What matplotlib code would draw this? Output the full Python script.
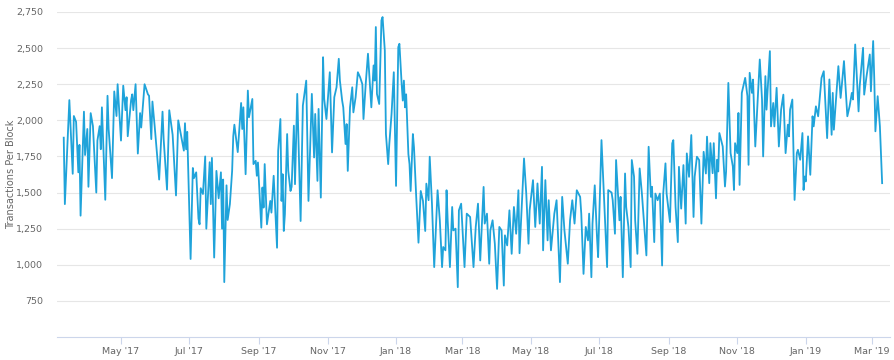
import pandas as pd
import matplotlib
matplotlib.use('Agg')
import matplotlib.pyplot as plt
import matplotlib.dates as mdates

# daily transactions per block (day 0 = 11 Mar 2017)
start = '2017-03-11'
days = [0, 1, 5, 8, 9, 11, 13, 14, 15, 18, 19, 21, 22, 24, 26, 29, 30, 32, 33, 34,
        37, 39, 40, 43, 45, 47, 48, 51, 53, 55, 56, 57, 60, 61, 62, 64, 66, 68, 69, 72,
        75, 76, 78, 79, 81, 85, 88, 89, 92, 94, 97, 100, 102, 107, 108, 109, 110, 113, 115, 116,
        118, 120, 121, 122, 124, 126, 127, 129, 130, 131, 132, 134, 136, 138, 140, 141, 142, 143, 145, 146,
        148, 150, 151, 152, 155, 158, 159, 160, 162, 164, 165, 168, 169, 171, 172, 173, 176, 177, 178, 179,
        181, 184, 185, 187, 190, 191, 193, 194, 195, 196, 197, 199, 200, 202, 203, 205, 206, 208, 211, 212,
        213, 216, 218, 221, 223, 224, 226, 227, 229, 231, 232, 234, 237, 239, 241, 243, 245, 246, 248, 249,
        251, 252, 253, 255, 256, 257, 258, 260, 262, 264, 266, 267, 269, 271, 274, 276, 277, 278, 279, 281,
        283, 284, 286, 287, 289, 290, 292, 294, 296, 298, 299, 301, 302, 303, 304, 305, 307, 308, 309, 311,
        312, 314, 316, 318, 320, 322, 323, 325, 326, 328, 330, 332, 333, 335, 337, 338, 340, 341, 342, 344,
        346, 347, 349, 351, 352, 354, 357, 359, 362, 365, 367, 369, 371, 374, 375, 377, 379, 380, 382, 384,
        386, 388, 390, 392, 393, 395, 397, 399, 401, 403, 405, 406, 410, 412, 414, 415, 418, 420, 422, 424,
        426, 427, 429, 431, 432, 434, 437, 439, 442, 444, 446, 449, 451, 453, 455, 457, 460, 461, 463, 465,
        467, 468, 470, 471, 473, 475, 476, 479, 482, 484, 485, 488, 489, 491, 492, 495, 496, 498, 500, 501,
        503, 505, 506, 508, 509, 511, 513, 515, 519, 521, 523, 524, 526, 527, 529, 531, 533, 534, 536, 537,
        540, 542, 543, 545, 547, 548, 550, 552, 554, 555, 557, 559, 561, 562, 564, 566, 568, 570, 572, 573,
        575, 576, 578, 579, 581, 582, 583, 584, 587, 589, 590, 592, 594, 596, 597, 598, 600, 601, 602, 604,
        607, 609, 610, 611, 613, 614, 616, 620, 622, 623, 625, 626, 629, 630, 632, 633, 635, 637, 639, 641,
        643, 645, 646, 647, 649, 651, 653, 654, 656, 658, 659, 660, 661, 663, 665, 667, 668, 670, 672, 675,
        677, 680, 682, 684, 685, 686, 690, 692, 693, 695, 698, 700, 702, 703, 705, 708, 709, 712, 713, 715,
        716, 718, 719, 721, 722, 723, 725, 727, 729]
tx_per_block = [1880, 1420, 2140, 1630, 2030, 1990, 1640, 1830, 1340, 2060, 1760, 1940, 1540, 2050, 1960, 1500, 1860, 1960, 1800, 2090,
                1450, 2170, 1940, 1600, 2200, 2030, 2250, 1860, 2240, 2070, 2160, 1890, 2140, 2180, 2070, 2250, 1770, 2050, 1950, 2250,
                2180, 2170, 1870, 2130, 1960, 1590, 2060, 1870, 1520, 2070, 1900, 1480, 2000, 1790, 1980, 1800, 1920, 1040, 1670, 1600,
                1640, 1320, 1280, 1530, 1490, 1750, 1250, 1560, 1710, 1420, 1740, 1050, 1650, 1460, 1640, 1250, 1590, 880, 1550, 1310,
                1420, 1650, 1890, 1970, 1780, 2120, 1940, 2090, 1627, 2206, 2021, 2148, 1697, 1720, 1616, 1708, 1257, 1535, 1396, 1697,
                1280, 1442, 1361, 1616, 1118, 1789, 2009, 1442, 1627, 1234, 1350, 1905, 1650, 1511, 1540, 1963, 1558, 2183, 1303, 1720,
                2102, 2275, 1442, 2183, 1743, 2044, 1581, 2079, 1465, 2437, 2148, 2009, 2333, 1778, 2160, 2229, 2426, 2275, 2137, 2090,
                1836, 1974, 1650, 2090, 2160, 2229, 2055, 2160, 2333, 2298, 2250, 2009, 2252, 2461, 2090, 2380, 2275, 2646, 2183, 2113,
                2692, 2715, 2484, 1905, 1697, 1836, 2044, 2333, 1546, 2507, 2530, 2252, 2137, 2275, 2090, 2180, 1766, 1697, 1511, 1905,
                1812, 1465, 1153, 1511, 1442, 1234, 1562, 1447, 1748, 1424, 984, 1331, 1516, 1308, 984, 1123, 1100, 1516, 1308, 984,
                1400, 1238, 1250, 845, 1377, 1423, 984, 1354, 1331, 984, 1262, 1423, 1030, 1539, 1285, 1354, 1007, 1238, 1308, 1146,
                833, 1262, 1238, 856, 1204, 1134, 1377, 1076, 1400, 1215, 1516, 1080, 1736, 1493, 1146, 1377, 1586, 1262, 1563, 1285,
                1678, 1100, 1586, 1169, 1447, 1100, 1354, 1447, 880, 1470, 1238, 1007, 1308, 1447, 1285, 1516, 1470, 1354, 937, 1262,
                1169, 1354, 914, 1285, 1550, 1192, 1053, 1863, 1331, 984, 1517, 1500, 1447, 1215, 1725, 1308, 1470, 914, 1632, 1400,
                1262, 984, 1725, 1610, 1308, 1076, 1667, 1493, 1065, 1817, 1470, 1540, 1157, 1493, 1447, 1493, 995, 1493, 1702, 1493,
                1296, 1840, 1863, 1400, 1157, 1678, 1389, 1690, 1285, 1771, 1609, 1898, 1331, 1609, 1748, 1725, 1285, 1782, 1632, 1887,
                1565, 1842, 1634, 1842, 1460, 1727, 1646, 1912, 1819, 1542, 1646, 2259, 1773, 1681, 1518, 1842, 1773, 2051, 1553, 2190,
                2294, 2167, 1692, 2329, 2190, 2282, 1819, 2421, 2144, 1750, 2306, 2074, 2479, 1958, 2120, 1958, 2225, 1819, 2074, 2178,
                1773, 1970, 1889, 2074, 2144, 1449, 1773, 1796, 1727, 1912, 1518, 1611, 1577, 1889, 1623, 2028, 1958, 2097, 2028, 2294,
                2340, 1877, 2283, 1900, 2190, 1935, 2375, 2155, 2236, 2410, 2028, 2097, 2190, 2144, 2525, 2062, 2236, 2502, 2178, 2300,
                2352, 2456, 2201, 2549, 2283, 1924, 2167, 1958, 1565]
y_ticks = [750, 1000, 1250, 1500, 1750, 2000, 2250, 2500, 2750]

dates = pd.Timestamp(start) + pd.to_timedelta(days, unit='D')

fig = plt.figure(figsize=(8.94, 3.6), dpi=100)
ax = fig.add_axes([57 / 894, 1 - 337 / 360, (890 - 57) / 894, (337 - 12) / 360])

ax.plot(dates, tx_per_block, color='#1fa3da', linewidth=1.3, solid_joinstyle='round')

ax.set_ylim(500, 2750)
ax.set_xlim(pd.Timestamp('2017-03-05'), pd.Timestamp('2019-03-17'))
ax.set_yticks(y_ticks)
ax.set_yticklabels([f'{v:,}' for v in y_ticks])
ax.yaxis.grid(True, color='#e6e6e6', linewidth=0.8)
ax.set_axisbelow(True)

ax.xaxis.set_major_locator(mdates.MonthLocator(bymonth=[1, 3, 5, 7, 9, 11]))
ax.xaxis.set_major_formatter(mdates.DateFormatter("%b '%y"))

for s in ['top', 'right', 'left']:
    ax.spines[s].set_visible(False)
ax.spines['bottom'].set_color('#ccd6eb')
ax.spines['bottom'].set_linewidth(0.8)

ax.tick_params(axis='y', length=0, pad=10, labelsize=6.8, labelcolor='#666666')
ax.tick_params(axis='x', length=5, width=0.8, color='#ccd6eb', pad=2,
               labelsize=6.8, labelcolor='#666666')
ax.set_ylabel('Transactions Per Block', fontsize=7, color='#666666', labelpad=0)

fig.savefig('out.png', dpi=100)
